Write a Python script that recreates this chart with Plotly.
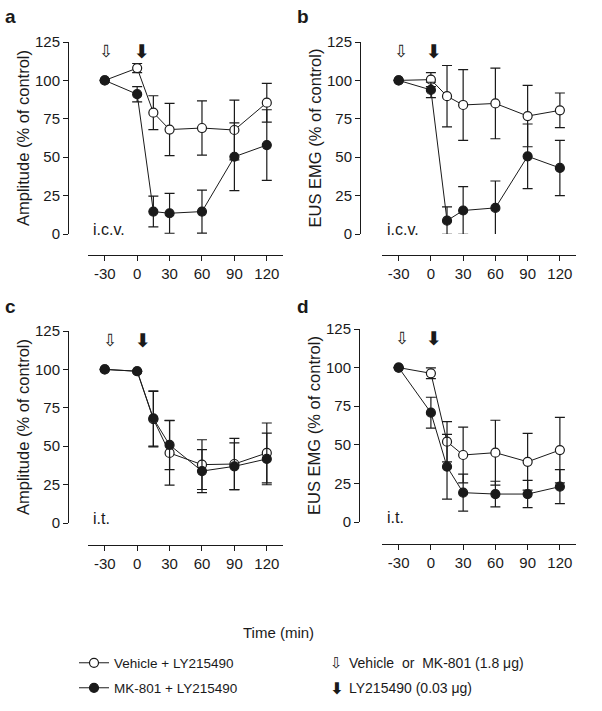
import plotly.graph_objs as go

###
# data (mean and error, % of control)
time = [-30, 0, 15, 30, 60, 90, 120]
x_ticks = [-30, 0, 30, 60, 90, 120]
x_tick_text = ['-30', '0', '30', '60', '90', '120']
y_ticks = [0, 25, 50, 75, 100, 125]

# a : amplitude, i.c.v.
a_veh = [100, 108, 79, 68, 69, 67.7, 85.5]
a_veh_err = [None, 3, 11, 17, 17.7, 19.5, 12.6]
a_mk = [100, 91, 14.6, 13.5, 14.6, 50.3, 57.9]
a_mk_err = [None, 5, 10, 13, 14, 22, 23]

# b : EUS EMG, i.c.v.
b_veh = [100, 100.5, 89.7, 84, 85, 76.8, 80.5]
b_veh_err = [None, 4.5, 20, 23, 23, 20, 11.3]
b_mk = [100, 93.8, 8.7, 15.3, 17, 50.6, 43]
b_mk_err = [None, 5, 9, 15.5, 17.5, 21, 18]

# c : amplitude, i.t.
c_veh = [100, 98.8, 67.6, 45.6, 38, 38.4, 45.6]
c_veh_err = [None, None, 18, 21, 16.2, 16.7, 19.5]
c_mk = [100, 98.8, 68.1, 50.8, 33.8, 36.9, 41.7]
c_mk_err = [None, None, 18, 16, 14, 15.2, 16.8]

# d : EUS EMG, i.t.
d_veh = [100, 96.3, 52, 43.4, 44.9, 39, 46.6]
d_veh_err = [None, 3.5, 13, 18, 21, 18.4, 21.2]
d_mk = [100, 70.8, 35.8, 19, 18.1, 18.1, 22.9]
d_mk_err = [None, 10, 21, 12, 8.3, 8.8, 11]

veh_name = 'Vehicle + LY215490'
mk_name = 'MK-801 + LY215490'

FONT = 'Liberation Sans, Arial, sans-serif'
W, H = 602, 711
INK = '#1a1a1a'

# pixel -> paper
def px(x):
  return x / W

def py(y):
  return 1 - y / H

###
#
def get_trace(y, err, name, filled, n, legend=None):
  trace = go.Scatter(
    x = time,
    y = y,
    name = name,
    mode = 'lines+markers',
    line = dict(color=INK, width=1),
    marker = dict(size=9, color=INK if filled else 'white',
                  line=dict(color=INK, width=1.2)),
    error_y = dict(type='data', array=err, visible=True,
                   color=INK, thickness=1.2, width=5),
    xaxis = 'x' + ('' if n == 1 else str(n)),
    yaxis = 'y' + ('' if n == 1 else str(n)),
    cliponaxis = False,
    showlegend = legend is not None,
    legend = legend or 'legend',
  )
  return trace

###
# text placed in pixel (paper) coordinates
def paper_text(text, x, y, size, xanchor='center', family=None, bold=False):
  font = dict(size=size, color=INK)
  if family:
    font['family'] = family
  return dict(text='<b>' + text + '</b>' if bold else text,
              x=px(x), y=py(y), xref='paper', yref='paper', showarrow=False,
              xanchor=xanchor, yanchor='middle', font=font)

###
# main
def main():
  # n, letter, veh, veh_err, mk, mk_err, ytitle, route,
  # y-axis line x, plot left/right, plot top/bottom, x-axis line y,
  # letter position, open arrow x, filled arrow x
  panels = [
    (1, 'a', a_veh, a_veh_err, a_mk, a_mk_err, 'Amplitude (% of control)', 'i.c.v.',
     68, 88, 283, 42, 234, 255, (10, 16), -28.5, 4.3),
    (2, 'b', b_veh, b_veh_err, b_mk, b_mk_err, 'EUS EMG (% of control)', 'i.c.v.',
     360, 382, 576, 42, 234, 255, (303, 16), -28, 3),
    (3, 'c', c_veh, c_veh_err, c_mk, c_mk_err, 'Amplitude (% of control)', 'i.t.',
     68, 88, 283, 331, 523, 545, (10, 306), -25.5, 5.7),
    (4, 'd', d_veh, d_veh_err, d_mk, d_mk_err, 'EUS EMG (% of control)', 'i.t.',
     359, 382, 576, 329, 522, 544, (303, 306), -26.5, 3),
  ]

  fig = go.Figure()
  layout = dict(
    width=W, height=H,
    margin=dict(l=0, r=0, t=0, b=0, autoexpand=False),
    paper_bgcolor='white', plot_bgcolor='white',
    font=dict(family=FONT, size=15, color=INK),
    showlegend=True,
  )
  annotations = []

  for (n, letter, veh, veh_err, mk, mk_err, ytitle, route,
       yline, left, right, top, bottom, xline, lpos, arr_open, arr_fill) in panels:
    fig.add_trace(get_trace(veh, veh_err, veh_name, False, n, 'legend' if n == 1 else None))
    fig.add_trace(get_trace(mk, mk_err, mk_name, True, n, 'legend2' if n == 1 else None))

    sfx = '' if n == 1 else str(n)
    layout['xaxis' + sfx] = dict(
      domain=[px(left), px(right)], range=[-45.5, 135],
      anchor='free', position=py(xline), automargin=False,
      tickvals=x_ticks, ticktext=x_tick_text,
      ticks='outside', ticklen=5, tickwidth=1, tickcolor=INK,
      showline=True, linecolor=INK, linewidth=1,
      showgrid=False, zeroline=False, tickfont=dict(size=15),
    )
    layout['yaxis' + sfx] = dict(
      domain=[py(bottom), py(top)], range=[0, 125],
      anchor='free', position=px(yline), automargin=False,
      tickvals=y_ticks, ticks='outside', ticklen=5, tickwidth=1, tickcolor=INK,
      showline=True, linecolor=INK, linewidth=1,
      showgrid=False, zeroline=False, tickfont=dict(size=15),
      title=dict(text=ytitle, font=dict(size=16.5), standoff=0),
    )

    xref = 'x' + sfx
    yref = 'y' + sfx
    # panel letter
    annotations.append(paper_text(letter, lpos[0], lpos[1], 19, bold=True))
    # route of administration
    annotations.append(dict(text=route, x=-43, y=3, xref=xref, yref=yref,
                            showarrow=False, xanchor='left', yanchor='middle',
                            font=dict(size=16)))
    # injection arrows
    annotations.append(dict(text='\u21e9', x=arr_open, y=119, xref=xref, yref=yref,
                            showarrow=False, xanchor='center', yanchor='middle',
                            font=dict(size=17, family='DejaVu Sans', color=INK)))
    annotations.append(dict(text='<b>\u2b07</b>', x=arr_fill, y=119, xref=xref, yref=yref,
                            showarrow=False, xanchor='center', yanchor='middle',
                            font=dict(size=19, family='DejaVu Sans', color=INK)))

  # common x title
  annotations.append(paper_text('Time (min)', 278, 632, 15))
  # arrow legend
  annotations.append(paper_text('\u21e9', 336, 663, 15, family='DejaVu Sans'))
  annotations.append(paper_text('Vehicle&nbsp; or&nbsp; MK-801 (1.8 \u03bcg)', 347, 663, 14,
                                xanchor='left'))
  annotations.append(paper_text('\u2b07', 336, 688, 16, family='DejaVu Sans', bold=True))
  annotations.append(paper_text('LY215490 (0.03 \u03bcg)', 347, 688, 14, xanchor='left'))

  layout['annotations'] = annotations
  leg = dict(xanchor='left', yanchor='middle', bgcolor='rgba(0,0,0,0)',
             font=dict(size=13.5), itemwidth=30)
  layout['legend'] = dict(leg, x=px(74), y=py(663))
  layout['legend2'] = dict(leg, x=px(74), y=py(688))

  fig.update_layout(**layout)
  # page body has a default 8px margin; drop it so the figure fills the window
  fig.write_html('out.html', config={'displayModeBar': False},
                 post_script="document.body.style.margin='0';")

###
if __name__ == '__main__':
  main()
